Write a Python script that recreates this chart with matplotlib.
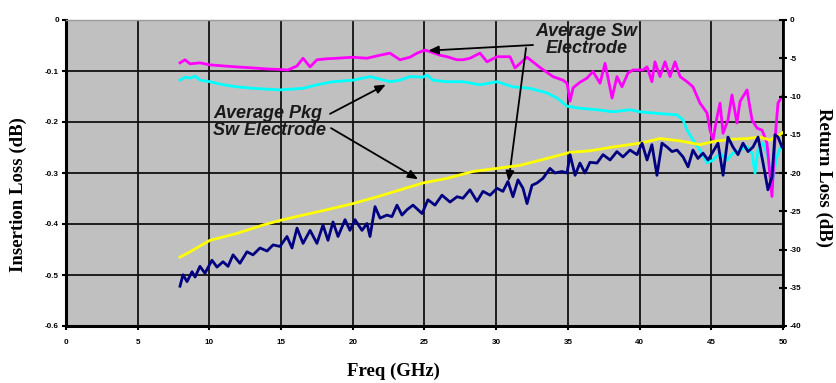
import numpy as np
import matplotlib
matplotlib.use("Agg")
import matplotlib.pyplot as plt
from matplotlib.ticker import FixedLocator, FuncFormatter

# ---------------- data ----------------
# Insertion loss (left axis, dB)
mag_f = [7.95, 8.30, 8.65, 9.34, 10.04, 10.95, 11.92, 13.04, 14.02, 14.92, 15.48, 16.11, 16.53, 17.02, 17.50,
         18.20, 18.90, 20.01, 20.99, 21.90, 22.59, 23.29, 23.99, 24.48, 25.03, 25.38, 26.08, 26.57,
         27.27, 27.68, 28.17, 28.87, 29.36, 30.06, 30.96, 31.31, 32.15, 33.05, 33.96, 34.66, 34.94,
         35.15, 35.36, 35.84, 36.33, 36.75, 37.24, 37.59, 38.08, 38.42, 38.77, 39.19, 39.54, 40.24,
         40.52, 40.86, 41.07, 41.42, 41.77, 42.12, 42.47, 42.82, 43.31, 43.72, 44.21, 44.70, 44.91,
         45.12, 45.40, 45.61, 45.82, 46.16, 46.44, 46.79, 47.00, 47.49, 47.84, 48.19, 48.54, 48.88,
         49.23, 49.44, 49.65, 49.93]
mag_v = [-0.084, -0.078, -0.086, -0.084, -0.088, -0.090, -0.092, -0.094, -0.096, -0.097, -0.098, -0.090, -0.075,
         -0.092, -0.078, -0.076, -0.075, -0.073, -0.075, -0.069, -0.065, -0.078, -0.073, -0.065, -0.059,
         -0.062, -0.069, -0.072, -0.078, -0.078, -0.075, -0.065, -0.082, -0.072, -0.072, -0.094, -0.073,
         -0.093, -0.111, -0.118, -0.124, -0.159, -0.133, -0.122, -0.114, -0.101, -0.124, -0.085, -0.153,
         -0.111, -0.131, -0.104, -0.098, -0.098, -0.092, -0.121, -0.082, -0.111, -0.082, -0.111, -0.082,
         -0.111, -0.121, -0.131, -0.163, -0.182, -0.216, -0.235, -0.190, -0.163, -0.222, -0.196, -0.147,
         -0.202, -0.160, -0.137, -0.196, -0.212, -0.216, -0.241, -0.346, -0.235, -0.163, -0.150]

cyan_f = [7.95, 8.30, 8.65, 9.00, 9.34, 10.04, 10.95, 11.92, 13.04, 14.92, 16.53, 17.50, 18.62, 20.01,
          21.20, 21.90, 22.59, 23.29, 23.99, 24.90, 25.17, 25.59, 26.57, 27.68, 28.87, 30.06, 31.17,
          32.36, 33.54, 34.24, 34.94, 35.84, 37.03, 38.14, 39.33, 40.03, 41.21, 42.61, 43.03, 43.31,
          43.72, 44.21, 44.70, 45.12, 45.61, 46.09, 46.51, 47.00, 47.49, 47.84, 48.05, 48.26, 48.61,
          48.95, 49.23, 49.58, 49.93]
cyan_v = [-0.118, -0.112, -0.114, -0.110, -0.118, -0.121, -0.127, -0.131, -0.134, -0.137, -0.134, -0.127,
          -0.121, -0.118, -0.111, -0.116, -0.121, -0.118, -0.111, -0.112, -0.108, -0.118, -0.121, -0.121,
          -0.127, -0.121, -0.131, -0.134, -0.143, -0.153, -0.169, -0.173, -0.176, -0.180, -0.176, -0.180,
          -0.183, -0.186, -0.196, -0.216, -0.235, -0.255, -0.280, -0.275, -0.261, -0.275, -0.261, -0.255,
          -0.248, -0.261, -0.300, -0.255, -0.241, -0.268, -0.320, -0.268, -0.241]

# Return loss (right axis, dB)
yel_f = [7.95, 8.65, 10.04, 11.92, 13.74, 14.92, 16.53, 18.20, 20.01, 21.90, 24.90, 26.57, 28.38, 30.06,
         31.66, 33.54, 35.15, 36.54, 38.14, 40.03, 41.42, 42.82, 44.21, 45.12, 46.30, 47.49, 48.40,
         49.09, 49.79, 50.0]
yel_v = [-31.0, -30.3, -28.8, -27.9, -26.8, -26.2, -25.5, -24.8, -24.0, -23.0, -21.3, -20.7, -19.8, -19.4,
         -19.0, -18.1, -17.3, -17.1, -16.6, -16.1, -15.5, -15.8, -16.3, -15.9, -15.6, -15.5, -15.3,
         -15.7, -15.0, -14.7]

blue_f = [7.95, 8.16, 8.44, 8.79, 9.00, 9.34, 9.69, 10.18, 10.53, 10.95, 11.30, 11.65, 12.13, 12.62,
          13.04, 13.53, 14.02, 14.44, 14.92, 15.41, 15.76, 16.11, 16.53, 17.02, 17.50, 17.92, 18.27,
          18.62, 18.97, 19.46, 19.80, 20.15, 20.64, 20.99, 21.20, 21.55, 21.90, 22.38, 22.73, 23.08,
          23.43, 23.78, 24.20, 24.83, 25.24, 25.73, 26.22, 26.78, 27.27, 27.68, 28.17, 28.66, 29.08,
          29.57, 30.06, 30.47, 30.82, 31.17, 31.52, 31.87, 32.15, 32.50, 32.85, 33.26, 33.75, 34.10,
          34.59, 34.94, 35.15, 35.50, 35.84, 36.19, 36.54, 37.03, 37.45, 37.94, 38.42, 38.84, 39.33,
          39.82, 40.17, 40.52, 40.86, 41.21, 41.56, 41.91, 42.26, 42.61, 43.03, 43.38, 43.72, 44.07,
          44.42, 44.77, 45.12, 45.47, 45.82, 46.16, 46.51, 46.86, 47.21, 47.56, 47.91, 48.26, 48.61,
          48.95, 49.23, 49.44, 49.65, 49.93]
blue_v = [-34.8, -33.3, -34.2, -32.9, -33.6, -32.2, -33.1, -31.4, -32.3, -31.6, -32.2, -30.7, -31.8, -30.3,
          -30.7, -29.8, -30.2, -29.4, -29.6, -28.3, -29.8, -27.2, -29.2, -27.5, -29.2, -26.8, -28.8,
          -26.4, -28.3, -26.1, -27.5, -26.1, -27.5, -26.6, -28.3, -24.4, -25.9, -25.5, -25.7, -24.2,
          -25.5, -24.8, -24.2, -25.3, -23.5, -24.2, -22.9, -23.8, -23.1, -23.3, -22.2, -23.7, -22.4,
          -22.9, -22.0, -22.4, -21.1, -23.1, -20.9, -22.0, -24.0, -21.6, -21.3, -20.7, -19.4, -20.0,
          -19.8, -20.0, -17.6, -20.3, -18.7, -20.0, -18.6, -18.7, -17.6, -18.3, -17.2, -17.9, -17.0,
          -17.6, -16.1, -18.3, -16.3, -20.3, -16.1, -16.6, -17.2, -17.0, -17.9, -19.2, -17.0, -18.1,
          -17.4, -18.3, -17.2, -16.1, -20.3, -15.3, -16.6, -17.6, -16.1, -17.2, -16.6, -15.3, -18.7,
          -22.2, -20.5, -15.0, -15.3, -16.6]

x_ticks = [0, 5, 10, 15, 20, 25, 30, 35, 40, 45, 50]
il_ticks = [0, -0.1, -0.2, -0.3, -0.4, -0.5, -0.6]
rl_ticks = [0, -5, -10, -15, -20, -25, -30, -35, -40]

label_sw = "Average Sw\nElectrode"
label_pkg = "Average Pkg\nSw Electrode"

# ---------------- figure ----------------
W, H = 837, 383
fig = plt.figure(figsize=(W / 100, H / 100), dpi=100)
fig.patch.set_facecolor("white")
ax = fig.add_axes([66 / W, 1 - 326 / H, (783 - 66) / W, (326 - 20) / H])
ax.set_facecolor("#C0C0C0")
ax.set_xlim(0, 50)
ax.set_ylim(-0.6, 0)

ax2 = ax.twinx()
ax2.set_ylim(-40, 0)

ax.xaxis.set_major_locator(FixedLocator(x_ticks))
ax.yaxis.set_major_locator(FixedLocator(il_ticks))
ax.yaxis.set_major_formatter(FuncFormatter(lambda v, p: "0" if abs(v) < 1e-9 else f"{v:.1f}"))
ax2.yaxis.set_major_locator(FixedLocator(rl_ticks))
ax2.yaxis.set_major_formatter(FuncFormatter(lambda v, p: f"{v:.0f}"))

for lab in ax.get_xticklabels() + ax.get_yticklabels() + ax2.get_yticklabels():
    lab.set_fontfamily("Liberation Sans")
    lab.set_fontweight("bold")
    lab.set_fontsize(5.8)

ax.grid(True, color="#111111", linewidth=1.3)
ax.set_axisbelow(True)
ax.tick_params(axis="x", direction="out", length=3, width=1.5, pad=6, colors="black")
ax.tick_params(axis="y", direction="out", length=3, width=1.5, pad=2, colors="black")
ax2.tick_params(axis="y", direction="inout", length=6, width=1.5, pad=2, colors="black")

for s in ["left", "bottom"]:
    ax.spines[s].set_linewidth(2.2)
    ax.spines[s].set_color("black")
ax.spines["top"].set_color("#9a9a9a")
ax.spines["top"].set_linewidth(1.0)
ax.spines["right"].set_visible(False)
ax2.spines["right"].set_linewidth(2.0)
ax2.spines["right"].set_color("black")
for s in ["left", "bottom", "top"]:
    ax2.spines[s].set_visible(False)

lw = 2.0
ax.plot(cyan_f, cyan_v, color="#00FFFF", lw=lw, zorder=3, solid_joinstyle="round")
ax.plot(mag_f, mag_v, color="#FF00FF", lw=lw, zorder=4, solid_joinstyle="round")
ax2.plot(yel_f, yel_v, color="#FFFF00", lw=lw, zorder=3, solid_joinstyle="round")
ax2.plot(blue_f, blue_v, color="#000080", lw=lw, zorder=4, solid_joinstyle="round")

# axis titles
serif = dict(family="Liberation Serif", weight="bold", size=13.5)
fig.text(18 / W, 1 - 195 / H, "Insertion Loss (dB)", rotation=90, ha="center", va="center", **serif)
fig.text(824 / W, 1 - 177 / H, "Return Loss (dB)", rotation=-90, ha="center", va="center", **serif)
fig.text(393 / W, 1 - 371 / H, "Freq (GHz)", ha="center", va="center", **serif)

# annotations
ann_font = dict(family="Liberation Sans", style="italic", weight="bold", size=13, color="#1a1a1a")
ax.text(36.3, -0.040, label_sw, ha="center", va="center", linespacing=1.0, **ann_font)
ax.text(10.25, -0.200, label_pkg, ha="left", va="center", linespacing=1.05, **ann_font)

arrow = dict(arrowstyle="-|>,head_length=0.6,head_width=0.25", color="black", lw=1.3,
             shrinkA=0, shrinkB=1)
# Sw -> magenta (IL) and navy (RL)
ax.annotate("", xy=(25.17, float(np.interp(25.17, mag_f, mag_v))), xytext=(32.57, -0.049),
            arrowprops=arrow, zorder=6)
ax.annotate("", xy=(30.85, float(np.interp(30.85, blue_f, blue_v))), xycoords=ax2.transData,
            xytext=(32.08, -0.055), textcoords=ax.transData, arrowprops=arrow, zorder=6)
# Pkg -> cyan (IL) and yellow (RL)
arrow_c = dict(arrow, shrinkB=5)
ax.annotate("", xy=(22.73, float(np.interp(22.73, cyan_f, cyan_v))), xytext=(18.41, -0.184),
            arrowprops=arrow_c, zorder=6)
ax.annotate("", xy=(24.97, float(np.interp(24.97, yel_f, yel_v))), xycoords=ax2.transData,
            xytext=(18.48, -0.212), textcoords=ax.transData, arrowprops=arrow_c, zorder=6)

fig.savefig("out.png", dpi=100)
